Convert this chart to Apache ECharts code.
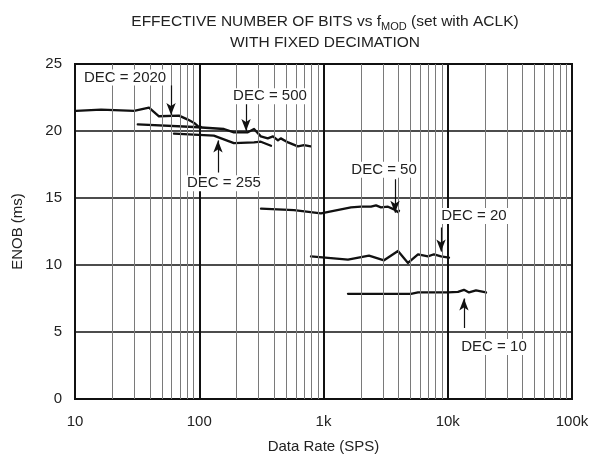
<!DOCTYPE html>
<html><head><meta charset="utf-8">
<script src="https://cdn.jsdelivr.net/npm/echarts@6/dist/echarts.min.js"></script>
<style>html,body{margin:0;padding:0;background:#fff}#c{width:595px;height:464px}</style>
</head><body><div id="c"></div>
<script>
// ---- data (x = Data Rate in SPS, y = ENOB) ----
const dec2020X = [10.2, 16.2, 29.9, 39.4, 47.4, 68.7, 81, 91, 98, 103];
const dec2020Y = [21.5, 21.6, 21.5, 21.75, 21.1, 21.15, 20.85, 20.6, 20.35, 20.3];
const dec500X = [32, 91, 158, 190, 246, 276, 313, 356, 392, 430, 453, 519, 622, 697, 790];
const dec500Y = [20.5, 20.3, 20.15, 19.9, 19.9, 20.15, 19.6, 19.45, 19.6, 19.3, 19.45, 19.15, 18.85, 18.95, 18.85];
const dec255X = [62.6, 131, 190, 276, 313, 378];
const dec255Y = [19.8, 19.65, 19.1, 19.15, 19.2, 18.9];
const dec50X = [314, 579, 955, 1149, 1664, 2003, 2412, 2646, 2903, 3304, 3693, 3978, 4050];
const dec50Y = [14.2, 14.1, 13.85, 14.0, 14.3, 14.35, 14.35, 14.45, 14.3, 14.35, 14.15, 13.95, 14.05];
const dec20X = [793, 1574, 2324, 3070, 3978, 4787, 5761, 6934, 7750, 8826, 10234];
const dec20Y = [10.65, 10.4, 10.7, 10.35, 11.05, 10.15, 10.8, 10.65, 10.8, 10.65, 10.55];
const dec10X = [1574, 5058, 5761, 10040, 12090, 13500, 14830, 16880, 20320];
const dec10Y = [7.85, 7.85, 7.95, 7.95, 8.0, 8.15, 7.95, 8.1, 7.95];

const xTickLabels = {10: '10', 100: '100', 1000: '1k', 10000: '10k', 100000: '100k'};
const minorGridX = [20,30,40,50,60,70,80,90,200,300,400,500,600,700,800,900,2000,3000,4000,5000,6000,7000,8000,9000,20000,30000,40000,50000,60000,70000,80000,90000];

// annotations: label text, label anchor (data coords), arrow x, arrow from y, arrow to y
const annoText = ['DEC = 2020', 'DEC = 500', 'DEC = 255', 'DEC = 50', 'DEC = 20', 'DEC = 10'];
const annoLabelX = [25.3, 371, 158, 3070, 16260, 23560];
const annoLabelY = [24.0, 22.6, 16.1, 17.1, 13.66, 3.88];
const arrowX = [59.3, 238, 141.5, 3763, 8826, 13500];
const arrowFromY = [23.4, 22.1, 16.9, 16.4, 12.8, 5.3];
const arrowToY = [21.2, 20.0, 19.3, 13.9, 11.0, 7.5];

const FONT = 'Liberation Sans, Arial, sans-serif';
const zip = (xs, ys) => xs.map((x, i) => [x, ys[i]]);

const curves = [
  zip(dec2020X, dec2020Y), zip(dec500X, dec500Y), zip(dec255X, dec255Y),
  zip(dec50X, dec50Y), zip(dec20X, dec20Y), zip(dec10X, dec10Y)
];

const series = curves.map(d => ({
  type: 'line', data: d, showSymbol: false, symbol: 'none', smooth: false,
  lineStyle: {color: '#111', width: 2.3, join: 'round', cap: 'round'}, z: 3, silent: true
}));

series.push({
  type: 'line', data: [], z: 1, silent: true,
  markLine: {
    silent: true, symbol: ['none', 'none'], label: {show: false},
    lineStyle: {color: '#7a7a7a', width: 1, type: 'solid'},
    data: minorGridX.map(v => ({xAxis: v}))
  }
});

series.push({
  type: 'line', data: [], z: 5, silent: true,
  markLine: {
    silent: true, symbol: ['none', 'arrow'], symbolSize: [7, 12], label: {show: false},
    lineStyle: {color: '#111', width: 1.2, type: 'solid'},
    data: arrowX.map((x, i) => [{coord: [x, arrowFromY[i]]}, {coord: [x, arrowToY[i]]}])
  },
  markPoint: {
    silent: true, symbol: 'rect', symbolSize: 1, itemStyle: {color: 'rgba(0,0,0,0)'},
    label: {show: true, position: 'inside', color: '#222', fontFamily: FONT, fontSize: 15,
      backgroundColor: '#fff', padding: [1, 3, 0, 3], formatter: p => p.name},
    data: annoText.map((t, i) => ({name: t, coord: [annoLabelX[i], annoLabelY[i]]}))
  }
});

const chart = echarts.init(document.getElementById('c'), null, {renderer: 'canvas'});
chart.setOption({
  animation: false,
  backgroundColor: '#fff',
  title: {
    left: 320, textAlign: 'center', top: 6,
    text: '{a|EFFECTIVE NUMBER OF BITS vs f}{s|MOD}{a| (set with ACLK)}\n{a|WITH FIXED DECIMATION}',
    textStyle: {
      fontFamily: FONT, fontWeight: 'normal', fontSize: 15.5, color: '#222', lineHeight: 21,
      rich: {
        a: {fontFamily: FONT, fontSize: 15.5, color: '#222', lineHeight: 21},
        s: {fontFamily: FONT, fontSize: 11, color: '#222', lineHeight: 21, verticalAlign: 'bottom', padding: [7, 0, 0, 0]}
      }
    }
  },
  grid: {left: 75, right: 23, top: 64, bottom: 65, show: true, borderColor: '#111', borderWidth: 2, containLabel: false},
  xAxis: {
    type: 'log', logBase: 10, min: 10, max: 100000,
    name: 'Data Rate (SPS)', nameLocation: 'middle', nameGap: 40,
    nameTextStyle: {fontFamily: FONT, fontSize: 15, color: '#222'},
    axisLine: {show: false}, axisTick: {show: false},
    axisLabel: {fontFamily: FONT, fontSize: 15, color: '#222', margin: 15,
      formatter: v => xTickLabels[Math.round(v)] || ''},
    splitLine: {show: true, lineStyle: {color: '#111', width: 2}}
  },
  yAxis: {
    type: 'value', min: 0, max: 25, interval: 5,
    name: 'ENOB (ms)', nameLocation: 'middle', nameGap: 50, nameRotate: 90,
    nameTextStyle: {fontFamily: FONT, fontSize: 15, color: '#222'},
    axisLine: {show: false}, axisTick: {show: false},
    axisLabel: {fontFamily: FONT, fontSize: 15, color: '#222', margin: 13},
    splitLine: {show: true, lineStyle: {color: '#111', width: 1.5}}
  },
  series: series
});
</script></body></html>
